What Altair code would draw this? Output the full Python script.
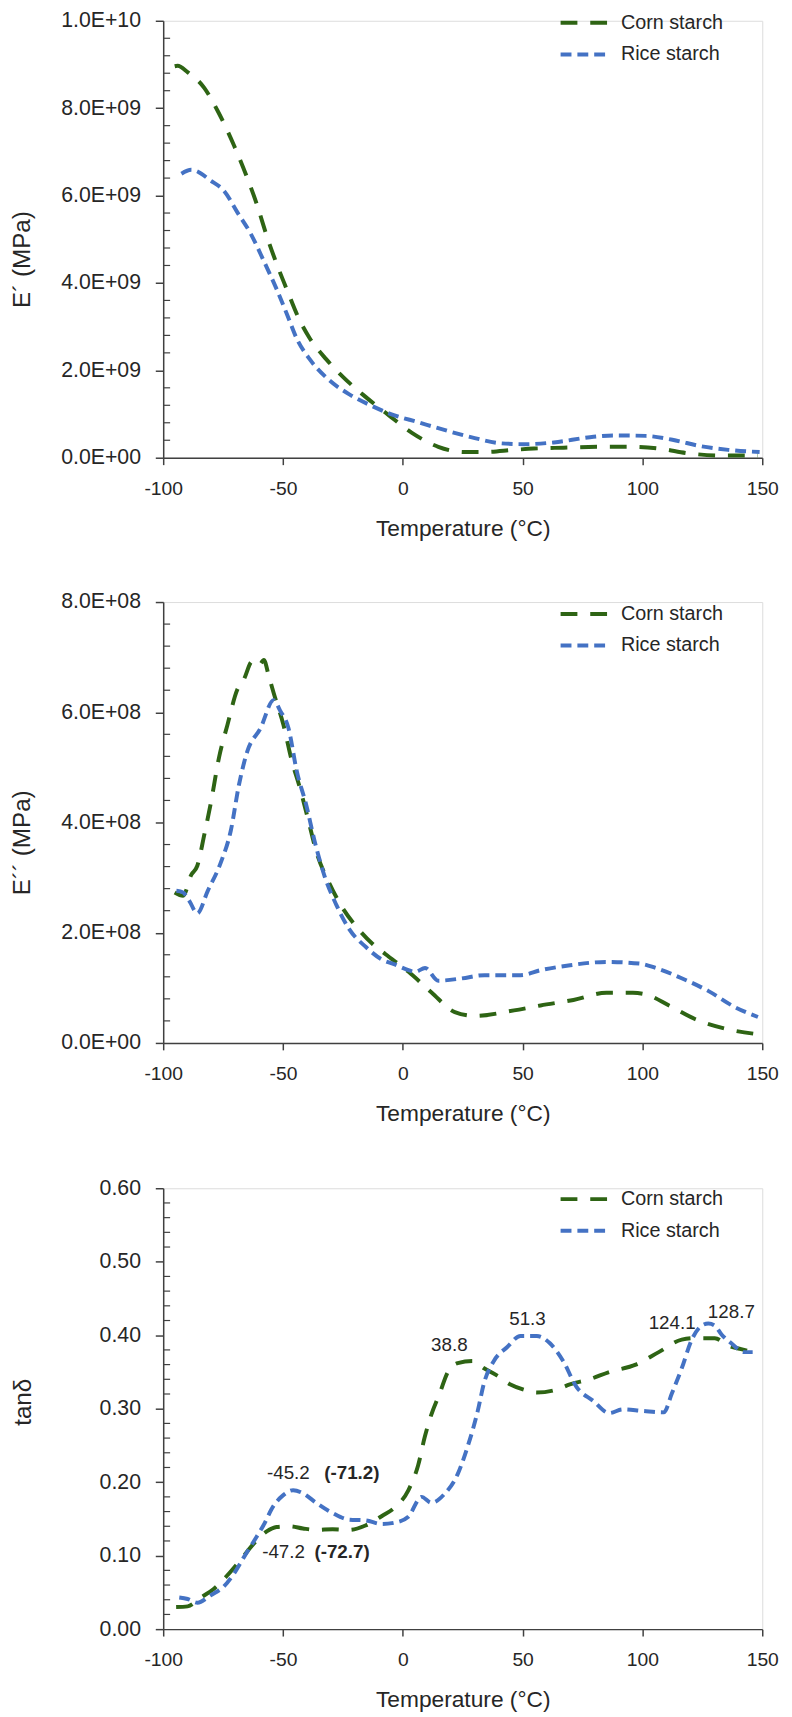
import altair as alt
import pandas as pd

FONT = "Liberation Sans"
TXT = "#262626"
AXC = "#404040"
SERIES = ["Corn starch", "Rice starch"]
COLORS = ["#2E6414", "#4472C4"]
DASHES = [[17, 13], [11, 6]]

X_TICKS = [-100, -50, 0, 50, 100, 150]

# ---------- Panel 1 : storage modulus E' ----------
p1_corn_t = [-95.2, -94, -89.7, -82.8, -77.3, -70.4, -65.6, -60.8, -56.7, -51.9, -48.4, -43.6, -38.8,
             -31.9, -25, -16.8, -5.8, 3.8, 14.8, 25.8, 34, 46.4, 54.7, 67.1, 82.2, 94.6, 107, 119.3, 133, 148.2]
p1_corn_v = [8.96e9, 8.97e9, 8.82e9, 8.46e9, 7.94e9, 7.14e9, 6.5e9, 5.78e9, 5.06e9, 4.33e9, 3.85e9, 3.21e9, 2.73e9,
             2.25e9, 1.85e9, 1.45e9, 0.97e9, 0.57e9, 0.25e9, 0.13e9, 0.13e9, 0.18e9, 0.21e9, 0.23e9, 0.25e9, 0.25e9,
             0.21e9, 0.10e9, 0.05e9, 0.05e9]
p1_rice_t = [-92.4, -88.3, -80.1, -74.5, -69.1, -63.6, -58.0, -52.6, -48.4, -44.3, -38.8, -30.6, -22.3, -12.7,
             -5, 6.6, 18.9, 30, 41, 50.6, 63, 78.1, 87.7, 101.4, 112.5, 124.8, 135.8, 148.9]
p1_rice_v = [6.5e9, 6.59e9, 6.34e9, 6.1e9, 5.62e9, 5.14e9, 4.5e9, 3.85e9, 3.29e9, 2.73e9, 2.25e9, 1.77e9, 1.45e9,
             1.18e9, 1.0e9, 0.81e9, 0.61e9, 0.45e9, 0.33e9, 0.31e9, 0.35e9, 0.47e9, 0.51e9, 0.50e9, 0.41e9, 0.26e9,
             0.18e9, 0.13e9]
p1_y_ticks = [0, 2e9, 4e9, 6e9, 8e9, 1e10]
p1_y_minor = [0.4e9, 0.8e9, 1.2e9, 1.6e9, 2.4e9, 2.8e9, 3.2e9, 3.6e9, 4.4e9, 4.8e9, 5.2e9, 5.6e9,
              6.4e9, 6.8e9, 7.2e9, 7.6e9, 8.4e9, 8.8e9, 9.2e9, 9.6e9]

# ---------- Panel 2 : loss modulus E'' ----------
p2_corn_t = [-95.2, -91.7, -88.3, -85.8, -82.8, -80.1, -76.6, -73.2, -69.1, -66.3, -62.9, -60.1, -58.0, -56,
             -53.9, -49.8, -46.4, -42.9, -39.5, -36.1, -30.6, -25, -19.6, -12.7, -7.2, 2.4, 12.1, 21.7, 30, 46.4,
             57.5, 71.2, 85, 96, 101.4, 111.1, 122.1, 134.5, 149.6]
p2_corn_v = [2.73e8, 2.67e8, 3.05e8, 3.21e8, 3.79e8, 4.36e8, 5.2e8, 5.77e8, 6.41e8, 6.6e8, 6.92e8, 6.85e8, 6.95e8,
             6.67e8, 6.35e8, 5.77e8, 5.13e8, 4.62e8, 4.05e8, 3.47e8, 2.89e8, 2.44e8, 2.12e8, 1.80e8, 1.61e8, 1.29e8,
             0.91e8, 0.56e8, 0.49e8, 0.59e8, 0.68e8, 0.78e8, 0.91e8, 0.91e8, 0.88e8, 0.68e8, 0.43e8, 0.26e8, 0.15e8]
p2_rice_t = [-94.5, -91.7, -89, -85.8, -81.4, -75.9, -71.8, -68.4, -64.9, -59.4, -53.9, -51.2, -47.7, -44.3,
             -40.2, -36.8, -32.6, -27.8, -22.3, -15.4, -9, -3.1, 2.4, 5.2, 9.3, 14.8, 24.5, 34.1, 49.2, 57.5, 69.8,
             85, 98.7, 105.6, 116.6, 127.6, 138.6, 148.2]
p2_rice_v = [2.76e8, 2.73e8, 2.57e8, 2.35e8, 2.76e8, 3.28e8, 3.85e8, 4.68e8, 5.29e8, 5.71e8, 6.22e8, 6.03e8,
             5.71e8, 4.94e8, 4.30e8, 3.66e8, 3.02e8, 2.51e8, 2.06e8, 1.74e8, 1.52e8, 1.42e8, 1.32e8, 1.29e8, 1.36e8,
             1.13e8, 1.17e8, 1.23e8, 1.23e8, 1.32e8, 1.41e8, 1.47e8, 1.44e8, 1.36e8, 1.17e8, 0.94e8, 0.65e8, 0.47e8]
p2_y_ticks = [0, 2e8, 4e8, 6e8, 8e8]
p2_y_minor = [0.4e8, 0.8e8, 1.2e8, 1.6e8, 2.4e8, 2.8e8, 3.2e8, 3.6e8, 4.4e8, 4.8e8, 5.2e8, 5.6e8,
              6.4e8, 6.8e8, 7.2e8, 7.6e8]

# ---------- Panel 3 : tan delta ----------
p3_corn_t = [-94.6, -89.8, -84.3, -78.8, -73.3, -67.8, -62.3, -56.8, -52.7, -47.2, -41.7, -36.2, -29.3, -22.4,
             -15.6, -8.7, -3.2, 2.3, 6.4, 9.2, 11.9, 15.4, 18.8, 22.9, 29.1, 33.9, 39.4, 44.9, 50.4, 55.9, 64.2,
             69.7, 77.9, 86.2, 97.2, 106.8, 116.4, 121.9, 130.2, 135.7, 141.2, 146]
p3_corn_v = [0.030, 0.031, 0.043, 0.055, 0.073, 0.094, 0.116, 0.133, 0.139, 0.140, 0.137, 0.135, 0.136, 0.135,
             0.141, 0.154, 0.166, 0.189, 0.223, 0.262, 0.292, 0.321, 0.350, 0.362, 0.365, 0.355, 0.345, 0.333,
             0.326, 0.322, 0.326, 0.333, 0.340, 0.350, 0.360, 0.377, 0.394, 0.396, 0.396, 0.386, 0.381, 0.377]
p3_rice_t = [-93.3, -89.8, -85.7, -80.2, -74.7, -70.6, -66.5, -62.3, -58.2, -54.1, -50, -45.8, -41.7, -36.2,
             -29.3, -22.4, -15.6, -8.7, -3.2, 2.3, 7.8, 11.9, 17.4, 22.9, 27, 31.2, 33.9, 38, 43.6, 49.1, 55.9,
             61.4, 66.9, 72.4, 79.3, 86.2, 91.7, 99.9, 108.9, 112.3, 116.4, 120.6, 124.7, 127.5, 130.2, 133,
             137.1, 142.6, 146]
p3_rice_v = [0.043, 0.041, 0.036, 0.046, 0.058, 0.075, 0.097, 0.119, 0.141, 0.167, 0.182, 0.189, 0.185, 0.172,
             0.158, 0.149, 0.148, 0.143, 0.145, 0.153, 0.180, 0.172, 0.184, 0.211, 0.248, 0.296, 0.335, 0.365,
             0.384, 0.399, 0.399, 0.389, 0.365, 0.330, 0.311, 0.294, 0.299, 0.297, 0.295, 0.321, 0.355, 0.394,
             0.413, 0.416, 0.413, 0.401, 0.389, 0.377, 0.377]
p3_y_ticks = [0.0, 0.1, 0.2, 0.3, 0.4, 0.5, 0.6]
p3_y_minor = [0.02, 0.04, 0.06, 0.08, 0.12, 0.14, 0.16, 0.18, 0.22, 0.24, 0.26, 0.28, 0.32, 0.34, 0.36,
              0.38, 0.42, 0.44, 0.46, 0.48, 0.52, 0.54, 0.56, 0.58]

ann_text = ["-45.2", "(-71.2)", "-47.2", "(-72.7)", "38.8", "51.3", "124.1", "128.7"]
ann_t = [-56.7, -32.8, -58.7, -36.9, 11.8, 44.4, 102.6, 127.3]
ann_v = [0.213, 0.213, 0.105, 0.105, 0.387, 0.422, 0.416, 0.432]
ann_bold = [False, True, False, True, False, False, False, False]

SCI_EXPR = ("datum.value == 0 ? '0.0E+00' : format(datum.value / pow(10, floor(log(datum.value)/LN10 + 1e-9)), '.1f')"
            " + 'E+' + (floor(log(datum.value)/LN10 + 1e-9) < 10 ? '0' : '') + floor(log(datum.value)/LN10 + 1e-9)")


def long_df(ct, cv, rt, rv):
    return pd.DataFrame({
        "T": ct + rt,
        "val": cv + rv,
        "Series": [SERIES[0]] * len(ct) + [SERIES[1]] * len(rt),
    })


def panel(df, ytitle, ydomain, yticks, yminor, label_expr, title_pad, height, legend_y, title_shift, ann=None):
    yscale = alt.Scale(domain=ydomain, nice=False, zero=False)
    xscale = alt.Scale(domain=[-100, 150], nice=False, zero=False)
    leg = alt.Legend(title=None, orient="none", legendX=415, legendY=legend_y, padding=0,
                     symbolType="M-2.5,0L2.5,0", symbolSize=400, symbolStrokeWidth=4,
                     labelFont=FONT, labelFontSize=20, labelColor=TXT, labelOffset=24, rowPadding=10)
    yaxis_kw = dict(values=yticks, title=ytitle, titleFont=FONT, titleFontSize=24.5, titleFontWeight="normal",
                    titleColor=TXT, titlePadding=title_pad, titleY=height / 2 + title_shift,
                    labelFont=FONT, labelFontSize=21.5, labelColor=TXT,
                    labelPadding=15, tickSize=8, tickColor=AXC, tickWidth=1.5, domainColor=AXC, domainWidth=1.5,
                    grid=False)
    if label_expr:
        yaxis_kw["labelExpr"] = label_expr
    else:
        yaxis_kw["format"] = ".2f"
    xaxis = alt.Axis(values=X_TICKS, title="Temperature (°C)", titleFont=FONT, titleFontSize=23,
                     titleFontWeight="normal", titleColor=TXT, titlePadding=20, labelFont=FONT,
                     labelFontSize=19.5, labelColor=TXT, labelPadding=15, labelFlush=False, tickSize=7,
                     tickColor=AXC, tickWidth=1.5, domainColor=AXC, domainWidth=1.5, grid=False,
                     labelExpr="datum.value + ''")
    yaxis = alt.Axis(**yaxis_kw)
    lines = alt.Chart(df).mark_line(strokeWidth=4, interpolate="monotone", strokeCap="butt").encode(
        x=alt.X("T:Q", scale=xscale, axis=xaxis),
        y=alt.Y("val:Q", scale=yscale, axis=yaxis),
        color=alt.Color("Series:N", scale=alt.Scale(domain=SERIES, range=COLORS), legend=leg),
        strokeDash=alt.StrokeDash("Series:N", scale=alt.Scale(domain=SERIES, range=DASHES), legend=leg),
    )
    minor = alt.Chart(pd.DataFrame({"val": yminor})).mark_rule(color=AXC, strokeWidth=1.2).encode(
        y=alt.Y("val:Q", scale=yscale, axis=yaxis),
        x=alt.value(0), x2=alt.value(7),
    )
    layers = [lines, minor]
    if ann is not None:
        adf = pd.DataFrame({"text": ann_text, "T": ann_t, "val": ann_v, "bold": ann_bold})
        for b in (False, True):
            sub = adf[adf["bold"] == b]
            layers.append(
                alt.Chart(sub).mark_text(align="left", baseline="middle", font=FONT, fontSize=19,
                                         fontWeight="bold" if b else "normal", color=TXT).encode(
                    x=alt.X("T:Q", scale=xscale, axis=xaxis), y=alt.Y("val:Q", scale=yscale, axis=yaxis),
                    text="text:N")
            )
    return alt.layer(*layers).properties(width=606, height=height)


c1 = panel(long_df(p1_corn_t, p1_corn_v, p1_rice_t, p1_rice_v), "E´ (MPa)", [0, 1e10],
           p1_y_ticks, p1_y_minor, SCI_EXPR, 27, 442, -10, 20)
c2 = panel(long_df(p2_corn_t, p2_corn_v, p2_rice_t, p2_rice_v), "E´´ (MPa)", [0, 8e8],
           p2_y_ticks, p2_y_minor, SCI_EXPR, 27, 446, 0, 20)
c3 = panel(long_df(p3_corn_t, p3_corn_v, p3_rice_t, p3_rice_v), "tanδ", [0, 0.6],
           p3_y_ticks, p3_y_minor, None, 64, 446, -1, -7, ann=True)

top = alt.vconcat(c1, c2, spacing=50).resolve_scale(
    color="independent", strokeDash="independent", y="independent", x="independent"
).resolve_legend(color="independent", strokeDash="independent")

chart = alt.vconcat(top, c3, spacing=51).resolve_scale(
    color="independent", strokeDash="independent", y="independent", x="independent"
).resolve_legend(color="independent", strokeDash="independent").properties(
    padding={"left": 0, "top": -9, "right": 5, "bottom": 0}
).configure_view(strokeWidth=0, stroke="transparent").configure(background="white")

chart.save("out.html", embed_options={"renderer": "svg", "actions": False})
